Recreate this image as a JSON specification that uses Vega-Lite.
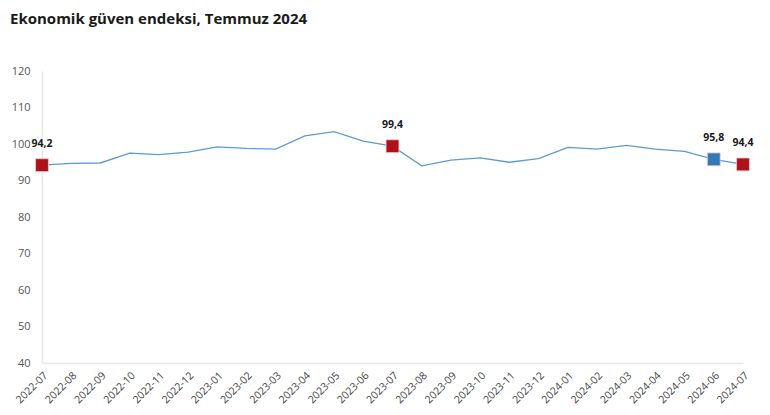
{
  "$schema": "https://vega.github.io/schema/vega-lite/v6.json",
  "autosize": "none",
  "width": 701,
  "height": 292,
  "padding": {"left": 42, "top": 71, "right": 27, "bottom": 52},
  "background": "white",
  "title": {
    "text": "Ekonomik güven endeksi, Temmuz 2024",
    "anchor": "start",
    "frame": "group",
    "dx": -32,
    "offset": 38,
    "font": "Open Sans",
    "fontSize": 15,
    "fontWeight": "bold",
    "color": "#1a1a1a"
  },
  "config": {
    "view": {"stroke": null},
    "font": "Open Sans"
  },
  "data": {
    "values": [
      {"ay": "2022-07", "deger": 94.2, "etiket": "94,2", "tip": "Temmuz"},
      {"ay": "2022-08", "deger": 94.7},
      {"ay": "2022-09", "deger": 94.8},
      {"ay": "2022-10", "deger": 97.5},
      {"ay": "2022-11", "deger": 97.1},
      {"ay": "2022-12", "deger": 97.8},
      {"ay": "2023-01", "deger": 99.2},
      {"ay": "2023-02", "deger": 98.8},
      {"ay": "2023-03", "deger": 98.6},
      {"ay": "2023-04", "deger": 102.2},
      {"ay": "2023-05", "deger": 103.4},
      {"ay": "2023-06", "deger": 100.8},
      {"ay": "2023-07", "deger": 99.4, "etiket": "99,4", "tip": "Temmuz"},
      {"ay": "2023-08", "deger": 94.0},
      {"ay": "2023-09", "deger": 95.6},
      {"ay": "2023-10", "deger": 96.2},
      {"ay": "2023-11", "deger": 95.0},
      {"ay": "2023-12", "deger": 96.0},
      {"ay": "2024-01", "deger": 99.1},
      {"ay": "2024-02", "deger": 98.6},
      {"ay": "2024-03", "deger": 99.6},
      {"ay": "2024-04", "deger": 98.6},
      {"ay": "2024-05", "deger": 98.0},
      {"ay": "2024-06", "deger": 95.8, "etiket": "95,8", "tip": "Haziran"},
      {"ay": "2024-07", "deger": 94.4, "etiket": "94,4", "tip": "Temmuz"}
    ]
  },
  "encoding": {
    "x": {
      "field": "ay",
      "type": "ordinal",
      "scale": {"type": "point", "padding": 0},
      "axis": {
        "title": null,
        "labelAngle": -45,
        "labelAlign": "right",
        "labelBaseline": "top",
        "labelFontSize": 10.5,
        "labelColor": "#444444",
        "labelPadding": 7,
        "ticks": false,
        "domainColor": "#e6e6e6",
        "domainWidth": 1.5,
        "grid": false
      }
    },
    "y": {
      "field": "deger",
      "type": "quantitative",
      "scale": {"domain": [40, 120], "nice": false, "zero": false},
      "axis": {
        "title": null,
        "values": [40, 50, 60, 70, 80, 90, 100, 110, 120],
        "labelFontSize": 11,
        "labelColor": "#555555",
        "labelPadding": 12,
        "ticks": false,
        "grid": false,
        "domainColor": "#e6e6e6",
        "domainWidth": 1.5
      }
    }
  },
  "layer": [
    {
      "mark": {"type": "line", "color": "#5b9bd5", "strokeWidth": 1.3}
    },
    {
      "transform": [{"filter": "datum.tip != null"}],
      "mark": {"type": "square", "size": 165, "opacity": 1, "stroke": "#f4c6c6", "strokeWidth": 0.8},
      "encoding": {
        "color": {
          "field": "tip",
          "type": "nominal",
          "scale": {"domain": ["Temmuz", "Haziran"], "range": ["#ad1218", "#2e7bb8"]},
          "legend": null
        }
      }
    },
    {
      "transform": [{"filter": "datum.etiket != null"}],
      "mark": {"type": "text", "dy": -21, "fontSize": 10.5, "fontWeight": "bold", "color": "#1a1a1a"},
      "encoding": {"text": {"field": "etiket"}}
    }
  ]
}
